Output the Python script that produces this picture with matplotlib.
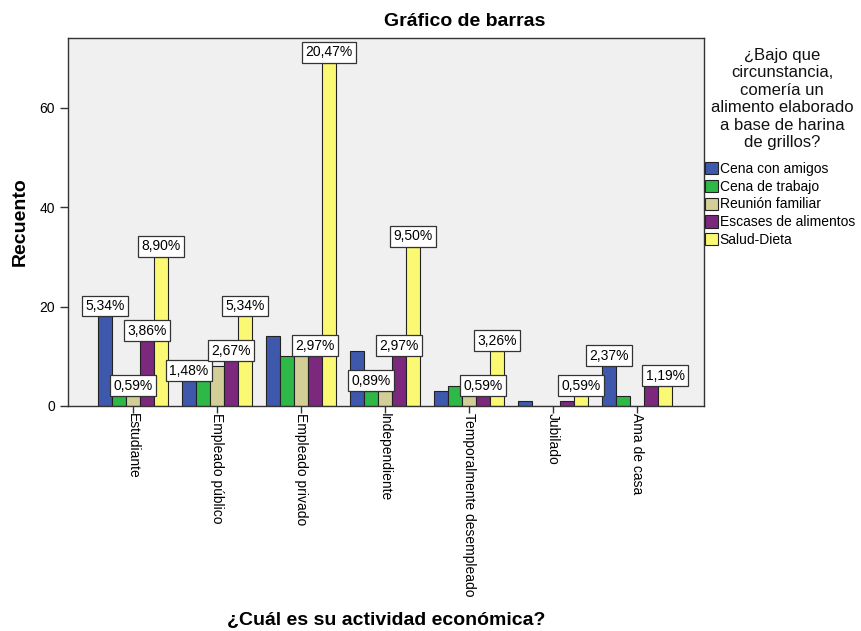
import numpy as np
import matplotlib.pyplot as plt

plt.rcParams['font.family'] = ['Liberation Sans', 'DejaVu Sans']

actividades = ["Estudiante", "Empleado público", "Empleado privado", "Independiente",
               "Temporalmente desempleado", "Jubilado", "Ama de casa"]
circunstancias = ["Cena con amigos", "Cena de trabajo", "Reunión familiar",
                  "Escases de alimentos", "Salud-Dieta"]

# recuentos por actividad, una lista por circunstancia
cena_amigos = [18, 5, 14, 11, 3, 1, 8]
cena_trabajo = [2, 5, 10, 3, 4, 0, 2]
reunion_familiar = [2, 8, 10, 3, 2, 0, 0]
escases = [13, 9, 10, 10, 2, 1, 4]
salud_dieta = [30, 18, 69, 32, 11, 2, 4]
total_n = 337

# etiquetas de porcentaje visibles (actividad, circunstancia)
etiquetas = [(0, 0), (0, 2), (0, 3), (0, 4),
             (1, 0), (1, 3), (1, 4),
             (2, 3), (2, 4),
             (3, 1), (3, 3), (3, 4),
             (4, 3), (4, 4),
             (5, 4),
             (6, 0), (6, 4)]

colores = ["#3E58AC", "#2EB848", "#D3CE97", "#7C287D", "#FBF873"]
series = [cena_amigos, cena_trabajo, reunion_familiar, escases, salud_dieta]

fig = plt.figure(figsize=(8.61, 6.31), dpi=100)
ax = fig.add_axes([0.079, 0.3566, 0.739, 0.5832])
ax.set_facecolor("#F0F0F0")

x = np.arange(len(actividades))
w = 1 / 6.
for j, vals in enumerate(series):
    ax.bar(x + (j - 2) * w, vals, w, color=colores[j], edgecolor="#222222",
           linewidth=0.8, label=circunstancias[j], zorder=2)

for i, j in etiquetas:
    v = series[j][i]
    txt = f"{v / total_n * 100:.2f}%".replace(".", ",")
    ax.annotate(txt, xy=(x[i] + (j - 2) * w, v), xytext=(0, 2.5),
                textcoords="offset points", ha="center", va="bottom", fontsize=10,
                bbox=dict(boxstyle="square,pad=0.25", fc="white", ec="#333333", lw=0.9),
                zorder=5)

ax.set_xlim(-0.77, 6.8)
ax.set_ylim(0, 74)
ax.set_yticks([0, 20, 40, 60])
ax.set_xticks(x)
ax.set_xticklabels(actividades, rotation=-90, ha="center", va="top", fontsize=10)
ax.tick_params(axis="y", labelsize=10, length=6, width=1, colors="#333333", labelcolor="black")
ax.tick_params(axis="x", length=5, width=1, colors="#333333", labelcolor="black", pad=0)
for s in ax.spines.values():
    s.set_color("#333333")
    s.set_linewidth(1)

fig.text(20 / 861, 1 - 222 / 631, "Recuento", rotation=90, ha="center", va="center",
         fontsize=14, fontweight="bold")
fig.text(386 / 861, 1 - 620 / 631, "¿Cuál es su actividad económica?", ha="center",
         va="center", fontsize=14, fontweight="bold")
fig.text(465 / 861, 1 - 22 / 631, "Gráfico de barras", ha="center", va="center",
         fontsize=14, fontweight="bold")

fig.text(782 / 861, 1 - 48 / 631,
         "¿Bajo que\ncircunstancia,\ncomería un\nalimento elaborado\na base de harina\nde grillos?",
         ha="center", va="top", multialignment="center", fontsize=12, linespacing=1.2,
         color="#111111")

fig.legend(loc="upper left", bbox_to_anchor=(705 / 861, 1 - 162 / 631), frameon=False,
           fontsize=10, handlelength=0.9, handleheight=1.0, handletextpad=0.15,
           labelspacing=0.27, borderpad=0, borderaxespad=0)

fig.savefig("out.png", dpi=100)
